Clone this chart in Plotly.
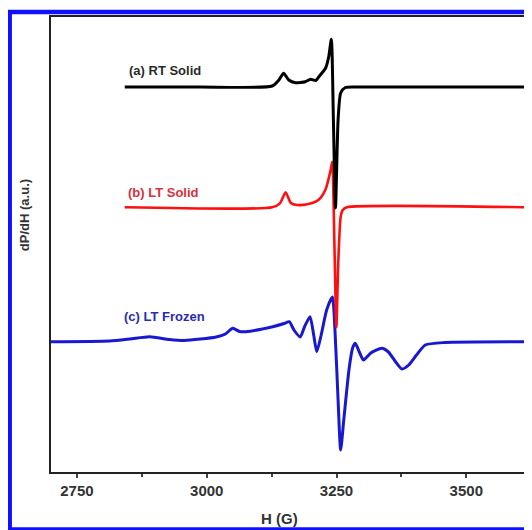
import plotly.graph_objects as go

# ---- data (H in gauss, signal in arbitrary units relative to each baseline) ----
h_a = [2842, 2986, 3126, 3139, 3148, 3158, 3171, 3190, 3200, 3210, 3216, 3229, 3235, 3240,
       3244, 3248, 3253, 3258, 3267, 3293, 3615]
s_a = [0, 0, 1, 7, 13.7, 7, 4.3, 5.3, 7.7, 6.5, 10.3, 19, 30.3, 47.7,
       -33, -121, -33, -6, -0.5, 0, 0]

h_b = [2842, 3126, 3141, 3152, 3162, 3174, 3194, 3210, 3220, 3229, 3238.6, 3241.7,
       3246, 3249.7, 3253.5, 3258, 3262, 3270, 3615]
s_b = [0, 0, 4, 15, 4.3, 2.3, 3, 5.6, 10, 18, 37, 45.6,
       -38, -120, -53, -9.4, -2.7, 0, 0]

h_c = [2700, 2813, 2852, 2890, 2928, 2957, 3018, 3036, 3050, 3063, 3075, 3127, 3149, 3159,
       3168, 3180, 3189, 3199, 3206, 3212, 3220, 3231, 3242, 3247, 3253, 3258, 3264, 3274,
       3281, 3286, 3294, 3302, 3316, 3337, 3350, 3364, 3376, 3389, 3404, 3421, 3459, 3615]
s_c = [0, 0.7, 2.7, 5, 2.2, 1.2, 4.7, 7.7, 13.4, 10.2, 10, 15, 18.2, 20,
       11.7, 4.7, 15.7, 25, 6.7, -10, 5.7, 31.7, 44.7, 11.7, -58.3, -108.3, -78, -28,
       -6.3, -1.6, -10.3, -18.3, -11.3, -6.6, -10.3, -20.3, -27.3, -23.3, -13.3, -3.3, -0.8, 0]

offset_a = 385
offset_b = 264.7
offset_c = 130.3

labels = ["(a) RT Solid", "(b) LT Solid", "(c) LT Frozen"]
label_h = [2919, 2916, 2919]
label_y = [402, 280, 155.3]

x_ticks = [2750, 3000, 3250, 3500]

fig = go.Figure()

series = [
    (h_c, s_c, offset_c, "#1818d0", 3),
    (h_b, s_b, offset_b, "#ff1010", 2.6),
    (h_a, s_a, offset_a, "#000000", 3),
]
for h, s, off, col, w in series:
    fig.add_trace(go.Scatter(
        x=h, y=[v + off for v in s], mode="lines",
        line=dict(color=col, width=w, shape="spline", smoothing=0.6),
        showlegend=False, hoverinfo="skip"))

label_colors = ["#2a2a2a", "#d8303c", "#2a2ab4"]
for t, hx, yy, c in zip(labels, label_h, label_y, label_colors):
    fig.add_annotation(x=hx, y=yy, text="<b>%s</b>" % t, showarrow=False,
                       font=dict(family="Liberation Sans, Arial", size=13, color=c),
                       xanchor="center", yanchor="middle")

fig.add_annotation(xref="paper", yref="paper", x=0.48, y=-0.103, text="<b>H (G)</b>",
                   showarrow=False, font=dict(family="Liberation Sans, Arial", size=15, color="#333"),
                   xanchor="center", yanchor="middle")
fig.add_annotation(xref="paper", yref="paper", x=-0.0566, y=0.5648, text="<b>dP/dH (a.u.)</b>",
                   showarrow=False, textangle=-90,
                   font=dict(family="Liberation Sans, Arial", size=13, color="#333"),
                   xanchor="center", yanchor="middle")

# outer blue frame
fig.add_shape(type="rect", xref="paper", yref="paper",
              x0=(9.5 - 51) / 477, x1=(545 - 51) / 477,
              y0=(472 - 529.5) / 455, y1=(472 - 12) / 455,
              line=dict(color="#1010ff", width=4.5), fillcolor="rgba(0,0,0,0)", layer="below")

fig.update_layout(
    width=524, height=522,
    margin=dict(l=43, r=4, t=9, b=58),
    paper_bgcolor="white", plot_bgcolor="white",
    font=dict(family="Liberation Sans, Arial", color="#333"),
    xaxis=dict(range=[2700, 3615], tickvals=x_ticks, ticktext=[str(v) for v in x_ticks],
               showgrid=False, zeroline=False, showline=True, linecolor="#222", linewidth=2,
               mirror=True, ticks="outside", ticklen=4, tickwidth=1.5, tickcolor="#444",
               tickfont=dict(size=15, color="#333", family="Liberation Sans, Arial", weight="bold"),
               minor=dict(dtick=125, tick0=2750, ticks="outside", ticklen=3, tickcolor="#444")),
    yaxis=dict(range=[0, 455], showticklabels=False, ticks="", showgrid=False, zeroline=False,
               showline=True, linecolor="#222", linewidth=2, mirror=True),
)

fig.write_html("out.html")
